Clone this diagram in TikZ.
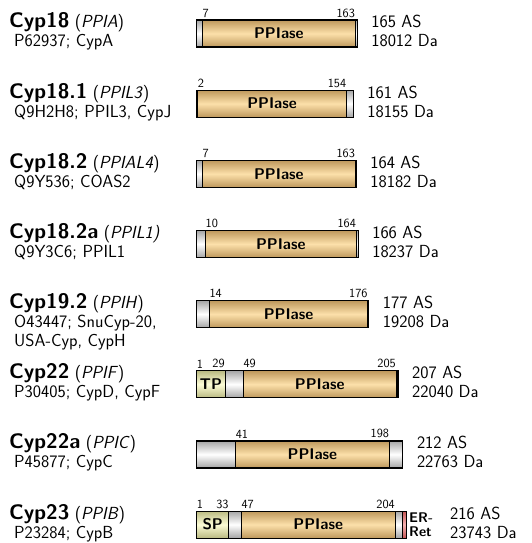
\documentclass[tikz,border=0pt]{standalone}
\definecolor{ppiedge}{RGB}{190,152,92}
\definecolor{ppimid}{RGB}{252,224,170}
\definecolor{lnkedge}{RGB}{165,165,165}
\definecolor{lnkmid}{RGB}{255,255,255}
\definecolor{sigedge}{RGB}{186,186,130}
\definecolor{sigmid}{RGB}{252,252,214}
\definecolor{retedge}{RGB}{196,84,84}
\definecolor{retmid}{RGB}{246,178,178}
\newcommand{\cypname}[2]{{\fontsize{21}{24}\selectfont\bfseries #1} (\textit{#2})}

\begin{document}
\begin{tikzpicture}[x=1pt,y=-1pt,
    ppi/.style={top color=ppiedge,bottom color=ppiedge,middle color=ppimid,draw=black,line width=0.7pt},
    lnk/.style={top color=lnkedge,bottom color=lnkedge,middle color=lnkmid,draw=black,line width=0.7pt},
    sig/.style={top color=sigedge,bottom color=sigedge,middle color=sigmid,draw=black,line width=0.7pt},
    ret/.style={top color=retedge,bottom color=retedge,middle color=retmid,draw=black,line width=0.7pt},
    barframe/.style={draw=black,line width=1.1pt},
    protname/.style={anchor=base west,inner sep=0pt,font=\sffamily\fontsize{17.5}{19}\selectfont},
    info/.style={anchor=base west,inner sep=0pt,font=\sffamily\fontsize{17.5}{19}\selectfont},
    dom/.style={inner sep=0pt,font=\sffamily\bfseries\fontsize{15.5}{15.5}\selectfont},
    num/.style={inner sep=0pt,yshift=2.5pt,font=\sffamily\fontsize{12.5}{12.5}\selectfont}]
  \useasboundingbox (0,0) rectangle (532,543);

  % protein names (left column)
  \node[protname] (na) at (9,28) {\cypname{Cyp18}{PPIA}};
  \node[protname] (ua) at (14,47) {P62937; CypA};
  \node[protname] (nb) at (9,98.15) {\cypname{Cyp18.1}{PPIL3}};
  \node[protname] (ub) at (14,117.15) {Q9H2H8; PPIL3, CypJ};
  \node[protname] (nc) at (9,168.3) {\cypname{Cyp18.2}{PPIAL4}};
  \node[protname] (uc) at (14,187.3) {Q9Y536; COAS2};
  \node[protname] (nd) at (9,238.45) {{\fontsize{21}{24}\selectfont\bfseries Cyp18.2a} (\textit{PPIL1)}};
  \node[protname] (ud) at (14,257.45) {Q9Y3C6; PPIL1};
  \node[protname] (ne) at (9,308.6) {\cypname{Cyp19.2}{PPIH}};
  \node[protname] (ue) at (14,327.6) {O43447; SnuCyp-20,};
  \node[protname] (ve) at (14,346.6) {USA-Cyp, CypH};
  \node[protname] (nf) at (9,378.75) {\cypname{Cyp22}{PPIF}};
  \node[protname] (uf) at (14,397.75) {P30405; CypD, CypF};
  \node[protname] (ng) at (9,448.9) {\cypname{Cyp22a}{PPIC}};
  \node[protname] (ug) at (14,467.9) {P45877; CypC};
  \node[protname] (nh) at (9,519.05) {\cypname{Cyp23}{PPIB}};
  \node[protname] (uh) at (14,538.05) {P23284; CypB};

  % one PPIase domain only
  \foreach \i/\c/\len/\a/\b/\da in {a/33.5/165/7/163/18012,b/103.65/161/2/154/18155,
      c/173.8/164/7/163/18182,d/243.95/166/10/164/18237,e/314.1/177/14/176/19208,
      g/454.4/212/41/198/22763}{
    \pgfmathsetmacro{\xs}{196.7+(\a-1)*0.9722}
    \pgfmathsetmacro{\xe}{196.7+\b*0.9722}
    \pgfmathsetmacro{\xl}{196.7+\len*0.9722}
    \path[lnk] (196.7,\c-13.5) rectangle (\xl,\c+13.5);
    \path[ppi] (\xs,\c-13.5) rectangle (\xe,\c+13.5);
    \draw[barframe] (196.7,\c-13.5) rectangle (\xl,\c+13.5);
    \node[dom] (p\i) at ({(\xs+\xe)/2},\c) {PPIase};
    \node[num,anchor=south west] (s\i) at (\xs,\c-13.5) {\a};
    \node[num,anchor=south east] (e\i) at (\xe,\c-13.5) {\b};
    \node[info] (aa\i) at (\xl+14,\c-5.5) {\len{} AS};
    \node[info] (da\i) at (\xl+14,\c+13.5) {\da{} Da};
  }

  % Cyp22: transit peptide
  \path[lnk] (196.7,370.75) rectangle (397.9,397.75);
  \path[sig] (196.7,370.75) rectangle (224.9,397.75);
  \path[ppi] (243.4,370.75) rectangle (396.0,397.75);
  \draw[barframe] (196.7,370.75) rectangle (397.9,397.75);
  \node[dom] (tpf) at (210.8,384.25) {TP};
  \node[dom] (pf) at (319.7,384.25) {PPIase};
  \node[num,anchor=south west] (sf) at (196.7,370.75) {1};
  \node[num,anchor=south east] (tf) at (224.9,370.75) {29};
  \node[num,anchor=south west] (qf) at (243.4,370.75) {49};
  \node[num,anchor=south east] (ef) at (396.0,370.75) {205};
  \node[info] (aaf) at (411.9,378.75) {207 AS};
  \node[info] (daf) at (411.9,397.75) {22040 Da};

  % Cyp23: signal peptide and ER retention signal
  \path[lnk] (196.7,511.05) rectangle (406.7,538.05);
  \path[sig] (196.7,511.05) rectangle (228.8,538.05);
  \path[ppi] (241.4,511.05) rectangle (395.0,538.05);
  \path[ret] (402.8,511.05) rectangle (406.7,538.05);
  \draw[barframe] (196.7,511.05) rectangle (406.7,538.05);
  \node[dom] (sph) at (212.7,524.55) {SP};
  \node[dom] (ph) at (318.2,524.55) {PPIase};
  \node[dom,anchor=west,align=left,font=\sffamily\bfseries\fontsize{14}{14}\selectfont] (erh) at (409,524.55) {ER-\\Ret};
  \node[num,anchor=south west] (sh) at (196.7,511.05) {1};
  \node[num,anchor=south east] (th) at (228.8,511.05) {33};
  \node[num,anchor=south west] (qh) at (241.4,511.05) {47};
  \node[num,anchor=south east] (eh) at (395.0,511.05) {204};
  \node[info] (aah) at (450,519.05) {216 AS};
  \node[info] (dah) at (450,538.05) {23743 Da};
\end{tikzpicture}
\end{document}
